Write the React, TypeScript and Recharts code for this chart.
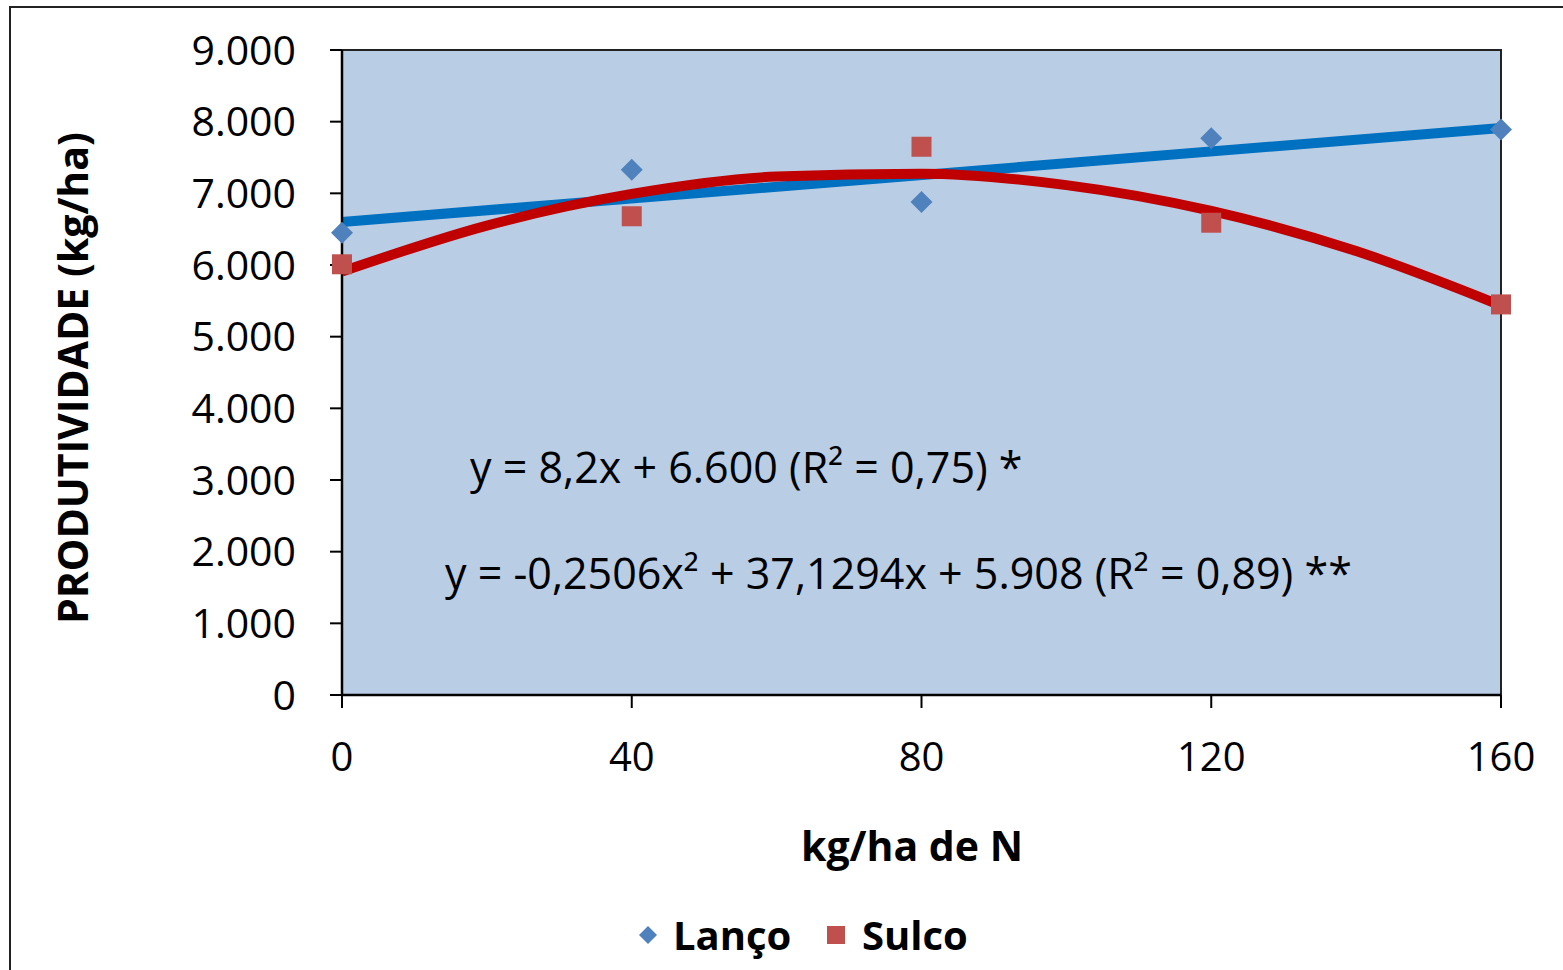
import React from "react";
import { ComposedChart, Line, XAxis, YAxis, ReferenceArea } from "recharts";

// N doses (kg/ha) and observed yields
const doses = [0, 40, 80, 120, 160];
const lancoValues = [6450, 7330, 6880, 7770, 7890];
const sulcoValues = [6010, 6680, 7650, 6590, 5450];

// fitted trend lines
const lancoTrendX = [0, 160];
const lancoTrendY = [6600, 7912];
const sulcoTrendX = [0, 20, 40, 60, 80, 100, 120, 140, 160];
const sulcoTrendY = [5908, 6550, 6992, 7234, 7275, 7115, 6755, 6194, 5434];

const xTicks = [0, 40, 80, 120, 160];
const yTicks = [0, 1000, 2000, 3000, 4000, 5000, 6000, 7000, 8000, 9000];

const FONT = "'Open Sans', sans-serif";
const PLOT_BG = "#B9CDE5";
const BLUE_LINE = "#0070C0";
const RED_LINE = "#C00000";
const BLUE_MARK = "#4F81BD";
const RED_MARK = "#C0504D";

const fmt = (v: number) => `${v}`.replace(/\B(?=(\d{3})+(?!\d))/g, ".");

const lancoData = doses.map((x, i) => ({ x, y: lancoValues[i] }));
const sulcoData = doses.map((x, i) => ({ x, y: sulcoValues[i] }));
const lancoTrend = lancoTrendX.map((x, i) => ({ x, y: lancoTrendY[i] }));
const sulcoTrend = sulcoTrendX.map((x, i) => ({ x, y: sulcoTrendY[i] }));

function Diamond(props: any) {
  const { cx, cy, index } = props;
  const r = 11;
  return (
    <polygon
      key={`d-${index}`}
      points={`${cx},${cy - r} ${cx + r},${cy} ${cx},${cy + r} ${cx - r},${cy}`}
      fill={BLUE_MARK}
    />
  );
}

function Square(props: any) {
  const { cx, cy, index } = props;
  const s = 20;
  return (
    <rect
      key={`s-${index}`}
      x={cx - s / 2}
      y={cy - s / 2}
      width={s}
      height={s}
      fill={RED_MARK}
    />
  );
}

const textBase: React.CSSProperties = {
  position: "absolute",
  fontFamily: FONT,
  color: "#000",
  whiteSpace: "nowrap",
  lineHeight: 1,
};

export default function App() {
  return (
    <div
      style={{
        position: "absolute",
        left: 0,
        top: 0,
        width: 1563,
        height: 970,
        overflow: "hidden",
        background: "#fff",
      }}
    >
      {/* outer chart frame */}
      <div
        style={{
          position: "absolute",
          left: 9,
          top: 6,
          width: 1600,
          height: 1000,
          border: "2px solid #222",
        }}
      />

      <div style={{ position: "absolute", left: 0, top: 0 }}>
        <ComposedChart
          width={1563}
          height={970}
          margin={{ top: 50, right: 62, bottom: 195, left: 0 }}
        >
          <ReferenceArea
            x1={0}
            x2={160}
            y1={0}
            y2={9000}
            fill={PLOT_BG}
            fillOpacity={1}
            stroke="#222"
            strokeWidth={2}
          />
          <XAxis
            type="number"
            dataKey="x"
            domain={[0, 160]}
            ticks={xTicks}
            height={80}
            tickSize={13}
            tickMargin={35}
            axisLine={{ stroke: "#000", strokeWidth: 2.5 }}
            tickLine={{ stroke: "#000", strokeWidth: 2 }}
            tick={{ fill: "#000", fontSize: 40, fontFamily: FONT }}
          />
          <YAxis
            type="number"
            dataKey="y"
            domain={[0, 9000]}
            ticks={yTicks}
            width={342}
            tickSize={12}
            tickMargin={34}
            tickFormatter={fmt}
            axisLine={{ stroke: "#000", strokeWidth: 2.5 }}
            tickLine={{ stroke: "#000", strokeWidth: 2 }}
            tick={{ fill: "#000", fontSize: 41, fontFamily: FONT }}
          />
          {/* observed points (drawn first so the trend lines sit on top) */}
          <Line
            name="Lanço"
            data={lancoData}
            dataKey="y"
            stroke="none"
            dot={<Diamond />}
            activeDot={false}
            isAnimationActive={false}
          />
          <Line
            name="Sulco"
            data={sulcoData}
            dataKey="y"
            stroke="none"
            dot={<Square />}
            activeDot={false}
            isAnimationActive={false}
          />
          <Line
            data={lancoTrend}
            dataKey="y"
            type="linear"
            stroke={BLUE_LINE}
            strokeWidth={10}
            dot={false}
            activeDot={false}
            isAnimationActive={false}
            legendType="none"
          />
          <Line
            data={sulcoTrend}
            dataKey="y"
            type="monotone"
            stroke={RED_LINE}
            strokeWidth={10}
            dot={false}
            activeDot={false}
            isAnimationActive={false}
            legendType="none"
          />
        </ComposedChart>
      </div>

      {/* axis titles */}
      <div
        style={{
          ...textBase,
          left: 72,
          top: 378,
          fontSize: 41,
          fontWeight: 700,
          transform: "translate(-50%, -50%) rotate(-90deg)",
        }}
      >
        PRODUTIVIDADE (kg/ha)
      </div>
      <div
        style={{
          ...textBase,
          left: 912,
          top: 845,
          fontSize: 41,
          fontWeight: 700,
          transform: "translate(-50%, -50%)",
        }}
      >
        kg/ha de N
      </div>

      {/* regression equations */}
      <div style={{ ...textBase, left: 470, top: 466, fontSize: 43, transform: "translateY(-50%)" }}>
        y = 8,2x + 6.600 (R² = 0,75) *
      </div>
      <div style={{ ...textBase, left: 445, top: 572, fontSize: 43, transform: "translateY(-50%)" }}>
        y = -0,2506x² + 37,1294x + 5.908 (R² = 0,89) **
      </div>

      {/* legend */}
      <svg
        width={20}
        height={20}
        style={{ position: "absolute", left: 638, top: 925 }}
      >
        <polygon points="10,1 19,10 10,19 1,10" fill={BLUE_MARK} />
      </svg>
      <div
        style={{
          ...textBase,
          left: 673,
          top: 935,
          fontSize: 40,
          fontWeight: 700,
          transform: "translateY(-50%)",
        }}
      >
        Lanço
      </div>
      <svg
        width={20}
        height={20}
        style={{ position: "absolute", left: 826, top: 925 }}
      >
        <rect x={1} y={1} width={18} height={18} fill={RED_MARK} />
      </svg>
      <div
        style={{
          ...textBase,
          left: 862,
          top: 935,
          fontSize: 40,
          fontWeight: 700,
          transform: "translateY(-50%)",
        }}
      >
        Sulco
      </div>
    </div>
  );
}
